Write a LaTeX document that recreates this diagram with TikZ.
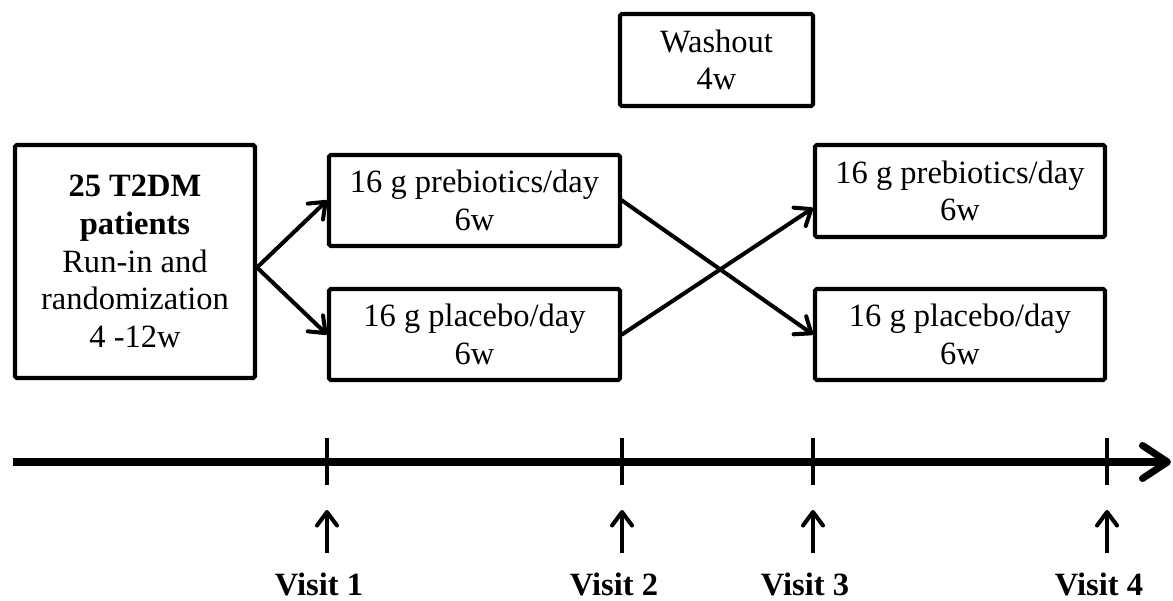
\documentclass[tikz,border=0pt]{standalone}
\usepackage{fontspec}
\setmainfont{Liberation Serif}
\usetikzlibrary{arrows.meta,calc}

\tikzset{
  phasebox/.style={draw, line width=2.3pt, rounded corners=1pt, align=center,
    inner sep=0pt, font=\fontsize{18.5}{21.5}\selectfont},
  flowarrow/.style={line width=2.3pt, line cap=round,
    -{Straight Barb[length=0.28cm, width=0.44cm, round]}},
  timeline/.style={line width=4pt,
    -{Straight Barb[length=0.5cm, width=0.66cm, round]}},
  tickmark/.style={line width=2.4pt},
  visitarrow/.style={line width=2.3pt,
    -{Straight Barb[length=0.27cm, width=0.4cm, round]}},
  visitlabel/.style={font=\fontsize{18.5}{21.5}\selectfont\bfseries, inner sep=0pt}
}

\begin{document}
\begin{tikzpicture}
    \useasboundingbox (0,0) rectangle (23.46,12.02);
    % Boxes
    \node[phasebox, minimum width=4.8cm, minimum height=4.66cm] (randbox) at (2.70,6.79)
      {\textbf{25 T2DM}\\\textbf{patients}\\Run-in and\\randomization\\4 -12w};
    \node[phasebox, minimum width=5.82cm, minimum height=1.82cm] (pre1) at (9.49,8.01)
      {16 g prebiotics/day\\6w};
    \node[phasebox, minimum width=5.82cm, minimum height=1.82cm] (pla1) at (9.49,5.33)
      {16 g placebo/day\\6w};
    \node[phasebox, minimum width=3.86cm, minimum height=1.84cm] (washout) at (14.33,10.82)
      {Washout\\4w};
    \node[phasebox, minimum width=5.8cm, minimum height=1.84cm] (pre2) at (19.2,8.2)
      {16 g prebiotics/day\\6w};
    \node[phasebox, minimum width=5.8cm, minimum height=1.82cm] (pla2) at (19.2,5.33)
      {16 g placebo/day\\6w};
    % Randomization arrows
    \coordinate (split) at ($(pre1.west)!0.5!(pla1.west)$);
    \coordinate (fork) at (randbox.east |- split);
    \draw[flowarrow] (fork) -- (pre1.west);
    \draw[flowarrow] (fork) -- (pla1.west);
    % Cross-over arrows
    \draw[flowarrow] (pre1.east) -- (pla2.west);
    \draw[flowarrow] (pla1.east) -- ([yshift=-0.34cm]pre2.west);
    % Time line
    \coordinate (axisL) at (0.26,2.78);
    \coordinate (axisR) at (23.42,2.78);
    \draw[timeline] (axisL) -- (axisR);
    % Visits
    \foreach \i/\edge in {1/pre1.west, 2/pre1.east, 3/pre2.west, 4/pre2.east}{
      \coordinate (tick\i) at (\edge |- axisL);
      \draw[tickmark] ([yshift=0.47cm]tick\i) -- ([yshift=-0.47cm]tick\i);
      \coordinate (vtop\i) at ([yshift=-0.96cm]tick\i);
      \coordinate (vfoot\i) at ([yshift=-1.82cm]tick\i);
      \draw[visitarrow] (vfoot\i) -- (vtop\i);
      \node[visitlabel] (visit\i) at ([xshift=-0.16cm, yshift=-2.45cm]tick\i) {Visit \i};
    }
  \end{tikzpicture}
\end{document}
